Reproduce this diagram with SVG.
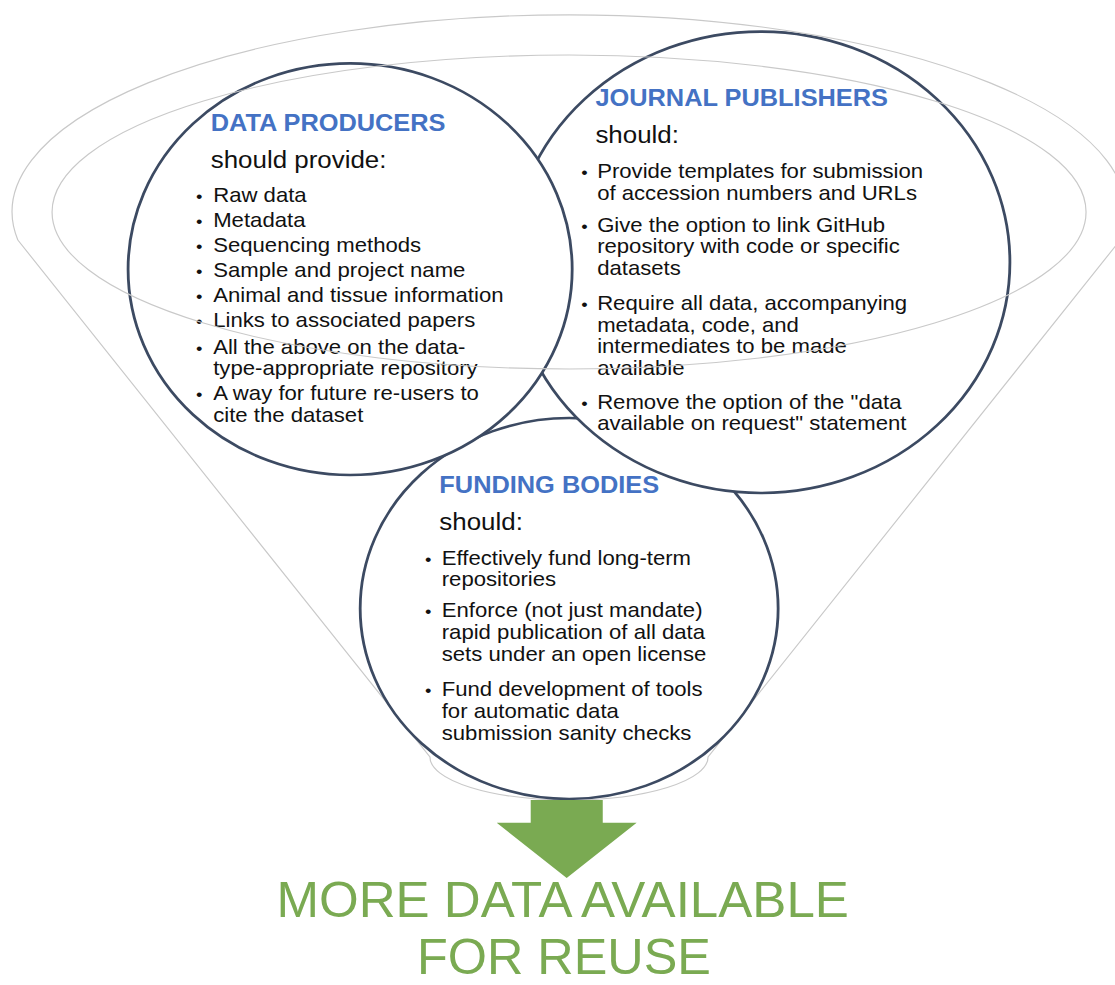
<svg xmlns="http://www.w3.org/2000/svg" width="1115" height="985" viewBox="0 0 1115 985">
<style>
  .bg { fill: #ffffff; }
  .rim { fill: none; stroke: #c9c9c9; stroke-width: 1.1; }
  .node { fill: #ffffff; stroke: #3c4a62; stroke-width: 2.6; }
  .hd { font-family: "Liberation Sans", Arial, sans-serif; font-weight: bold; font-size: 23.5px; fill: #4472c4; }
  .sh { font-family: "Liberation Sans", Arial, sans-serif; font-size: 24px; fill: #111111; }
  .tx { font-family: "Liberation Sans", Arial, sans-serif; font-size: 20.5px; fill: #111111; }
  .bu { font-family: "Liberation Sans", Arial, sans-serif; font-size: 17px; fill: #111111; }
  .arrow { fill: #7aaa52; }
  .big { font-family: "Liberation Sans", Arial, sans-serif; font-size: 50px; fill: #7aaa52; }
</style>
<rect class="bg" x="0" y="0" width="1115" height="985"/>
<g transform="scale(1.08 1)">
  <g id="funnel-base">
    <path class="rim" d="M16.5,240 L398.1,757 A128.7,43 0 0 0 655.6,757 L1037.3,240"/>
  </g>

  <g id="funding-bodies">
    <ellipse class="node" cx="527" cy="608.5" rx="193.5" ry="190.5"/>
    <text class="hd" x="406.8" y="492.7">FUNDING BODIES</text>
    <text class="sh" x="406.8" y="530">should:</text>
    <text class="bu" x="393.5" y="565">•</text>
    <text class="tx" x="409" y="565">Effectively fund long-term</text>
    <text class="tx" x="409" y="586">repositories</text>
    <text class="bu" x="393.5" y="617">•</text>
    <text class="tx" x="409" y="617">Enforce (not just mandate)</text>
    <text class="tx" x="409" y="639">rapid publication of all data</text>
    <text class="tx" x="409" y="661">sets under an open license</text>
    <text class="bu" x="393.5" y="696">•</text>
    <text class="tx" x="409" y="696">Fund development of tools</text>
    <text class="tx" x="409" y="718">for automatic data</text>
    <text class="tx" x="409" y="740">submission sanity checks</text>
  </g>

  <g id="journal-publishers">
    <ellipse class="node" cx="704.4" cy="262.3" rx="230.7" ry="230.7"/>
    <text class="hd" x="551.3" y="106">JOURNAL PUBLISHERS</text>
    <text class="sh" x="551.3" y="143.3">should:</text>
    <text class="bu" x="538.2" y="178.3">•</text>
    <text class="tx" x="552.9" y="178.3">Provide templates for submission</text>
    <text class="tx" x="552.9" y="199.7">of accession numbers and URLs</text>
    <text class="bu" x="538.2" y="231.7">•</text>
    <text class="tx" x="552.9" y="231.7">Give the option to link GitHub</text>
    <text class="tx" x="552.9" y="253.5">repository with code or specific</text>
    <text class="tx" x="552.9" y="275.5">datasets</text>
    <text class="bu" x="538.2" y="310">•</text>
    <text class="tx" x="552.9" y="310">Require all data, accompanying</text>
    <text class="tx" x="552.9" y="331.7">metadata, code, and</text>
    <text class="tx" x="552.9" y="353.3">intermediates to be made</text>
    <text class="tx" x="552.9" y="375">available</text>
    <text class="bu" x="538.2" y="409">•</text>
    <text class="tx" x="552.9" y="409">Remove the option of the "data</text>
    <text class="tx" x="552.9" y="430.5">available on request" statement</text>
  </g>

  <g id="data-producers">
    <ellipse class="node" cx="324.2" cy="269.2" rx="205.6" ry="205.8"/>
    <text class="hd" x="195.1" y="130.7">DATA PRODUCERS</text>
    <text class="sh" x="195.1" y="167.7">should provide:</text>
    <text class="bu" x="181.5" y="202">•</text>
    <text class="tx" x="197.4" y="202">Raw data</text>
    <text class="bu" x="181.5" y="227">•</text>
    <text class="tx" x="197.4" y="227">Metadata</text>
    <text class="bu" x="181.5" y="252.5">•</text>
    <text class="tx" x="197.4" y="252.5">Sequencing methods</text>
    <text class="bu" x="181.5" y="277.5">•</text>
    <text class="tx" x="197.4" y="277.5">Sample and project name</text>
    <text class="bu" x="181.5" y="302">•</text>
    <text class="tx" x="197.4" y="302">Animal and tissue information</text>
    <text class="bu" x="181.5" y="327.5">•</text>
    <text class="tx" x="197.4" y="327.5">Links to associated papers</text>
    <text class="bu" x="181.5" y="354">•</text>
    <text class="tx" x="197.4" y="354">All the above on the data-</text>
    <text class="tx" x="197.4" y="375.5">type-appropriate repository</text>
    <text class="bu" x="181.5" y="400">•</text>
    <text class="tx" x="197.4" y="400">A way for future re-users to</text>
    <text class="tx" x="197.4" y="422.5">cite the dataset</text>
  </g>

  <g id="funnel-rims">
    <path class="rim" d="M16.5,240 A515.7,197 0 1 1 1037.3,240"/>
    <ellipse class="rim" cx="526.9" cy="212" rx="478.7" ry="157"/>
  </g>

  <g id="connectors">
    <polygon class="arrow" points="491.4,800 558.1,800 558.1,822.7 589.5,822.7 524.7,878 459.9,822.7 491.4,822.7"/>
  </g>

  <g id="outcome">
    <text class="big" x="256" y="917" textLength="530" lengthAdjust="spacingAndGlyphs">MORE DATA AVAILABLE</text>
    <text class="big" x="386.1" y="974" textLength="272.2" lengthAdjust="spacingAndGlyphs">FOR REUSE</text>
  </g>
</g>
</svg>
